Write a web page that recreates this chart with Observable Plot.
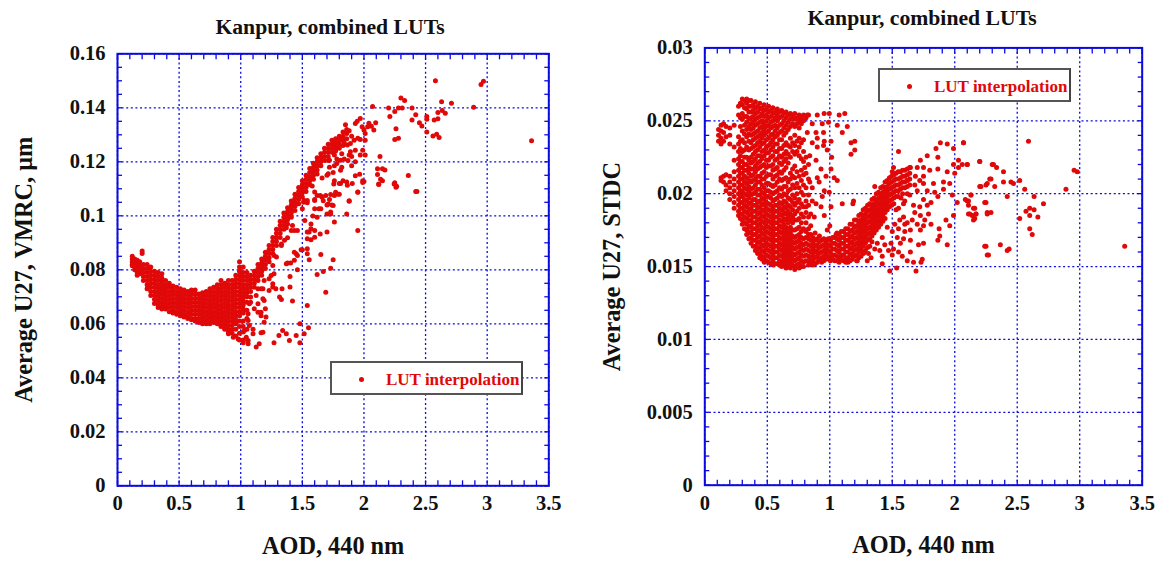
<!DOCTYPE html>
<html><head><meta charset="utf-8">
<script src="https://cdn.jsdelivr.net/npm/d3@7"></script>
<script src="https://cdn.jsdelivr.net/npm/@observablehq/plot@0.6"></script>
<style>
html,body{margin:0;background:#fff;}
#page{position:relative;width:1158px;height:563px;overflow:hidden;font-family:"Liberation Serif",serif;font-weight:bold;}
#page svg{position:absolute;top:0;background:transparent;}
.title{position:absolute;font-size:21.7px;color:#111;transform:translateX(-50%);white-space:nowrap;}
.legend{position:absolute;box-sizing:border-box;width:193px;height:34px;background:#fff;border:2px solid #555;border-right-color:#444;color:#e00808;font-size:17px;white-space:nowrap;}
.legend i{position:absolute;width:5px;height:5px;border-radius:50%;background:#e00808;top:13.5px;left:27px;}
.legend span{position:absolute;left:54px;top:7px;}
</style></head><body><div id="page"></div>
<script>
const chartTitle = "Kanpur, combined LUTs";
const legendLabel = "LUT interpolation";
const xLabel = "AOD, 440 nm";
const leftYLabel = "Average U27, VMRC, μm";
const rightYLabel = "Average U27, STDC";
const xTicks = [0,0.5,1,1.5,2,2.5,3,3.5];
const xMinor = [0.1,0.2,0.3,0.4,0.6,0.7,0.8,0.9,1.1,1.2,1.3,1.4,1.6,1.7,1.8,1.9,2.1,2.2,2.3,2.4,2.6,2.7,2.8,2.9,3.1,3.2,3.3,3.4];
const leftYTicks = [0,0.02,0.04,0.06,0.08,0.1,0.12,0.14,0.16];
const leftYMinor = [0.005,0.01,0.015,0.025,0.03,0.035,0.045,0.05,0.055,0.065,0.07,0.075,0.085,0.09,0.095,0.105,0.11,0.115,0.125,0.13,0.135,0.145,0.15,0.155];
const rightYTicks = [0,0.005,0.01,0.015,0.02,0.025,0.03];
const rightYMinor = [0.001,0.002,0.003,0.004,0.006,0.007,0.008,0.009,0.011,0.012,0.013,0.014,0.016,0.017,0.018,0.019,0.021,0.022,0.023,0.024,0.026,0.027,0.028,0.029];

// VMRC panel: [AOD, [VMRC x 1000, ...]] columns
const leftBand = [
[.12,[85,84,83,82,81.5]],[.14,[84,82.5,81,80]],[.16,[83.5,82,80.5,79,78]],[.18,[83,81.5,80,78.5]],[.2,[87,86]],
[.21,[82,80.5,79,77.5,76]],[.24,[82,80.5,79,77.5,76,74.5,73]],[.27,[81,79.5,78,76.5,75,73.5,72,70.5]],
[.3,[79.5,78,76.5,75,73.5,72,70.5,69,67.5]],[.33,[79,77.5,76,74.5,73,71.5,70,68.5,67,66]],
[.36,[78.5,77,75.5,74,72.5,71,69.5,68,66.5,65.5]],[.39,[76,74.5,73,71.5,70,68.5,67,65.5]],
[.42,[75,73.5,72,70.5,69,67.5,66,64.5]],[.45,[74,72.5,71,69.5,68,66.5,65,64]],
[.48,[73.5,72,70.5,69,67.5,66,64.5,63.5]],[.51,[73,71.5,70,68.5,67,65.5,64,63]],
[.54,[72.5,71,69.5,68,66.5,65,63.5,62.5]],[.57,[72,70.5,69,67.5,66,64.5,63,62]],
[.6,[72.5,71,69.5,68,66.5,65,63.5,62,61.5]],[.63,[72.5,71,69.5,68,66.5,65,63.5,62,61]],
[.66,[71,69.5,68,66.5,65,63.5,62,60.5]],[.69,[71.5,70,68.5,67,65.5,64,62.5,61,60]],
[.72,[72,70.5,69,67.5,66,64.5,63,61.5,60]],[.75,[73,71.5,70,68.5,67,65.5,64,62.5,61,60]],
[.78,[73.5,72,70.5,69,67.5,66,64.5,63,61.5,60.5]],[.81,[74.5,73,71.5,70,68.5,67,65.5,64,62.5,61,60]],
[.84,[76,74.5,73,71.5,70,68.5,67,65.5,64,62.5,61,59.5,59]],[.87,[75,73.5,72,70.5,69,67.5,66,64.5,63,61.5,60,58.5,58]],
[.9,[76,74.5,73,71.5,70,68.5,67,65.5,64,62.5,61,59.5,58,57]],[.93,[76,74.5,73,71.5,70,68.5,67,65.5,64,62.5,61,59.5,58,56.5]],
[.96,[78,76.5,75,73.5,72,70.5,69,67.5,66,64.5,63,61.5,60,58,55.5]],[.99,[83,81,79.5,78,76.5,75,73.5,72,70.5,69,67.5,66,64.5,63,61,59,56.5,54]],
[1.02,[81,79,77.5,76,74.5,73,71.5,70,68.5,67,65.5,64,61,59,57,54,53]],[1.05,[79,77.5,76,74.5,73,71.5,70,68,65,62,58]],
[1.08,[78,76.5,75,73.5,72,68]],[1.11,[79.5,78,76.5,75,73.5]],[1.14,[82,80.5,79,77.5,76]],[1.17,[84,82.5,81,79.5,78]],
[1.2,[86.5,85,83.5,82,80.5]],[1.23,[89,87.5,86,84.5,83]],[1.26,[92,90.5,89,87.5,86]],[1.29,[95,93.5,92,90.5,89]],
[1.32,[98,96.5,95,93.5,92]],[1.35,[101,99.5,98,96.5,95]],[1.38,[103,101.5,100,98.5,97]],[1.41,[105.5,104,102.5,101,99.5]],
[1.44,[108,106.5,105,103.5,102]],[1.47,[110.5,109,107.5,106,104.5]],[1.5,[113,111.5,110,108.5,107]],[1.53,[115,113.5,112,110.5,109]],
[1.56,[117.5,116,114.5,113,111.5]],[1.59,[119.5,118,116.5,115,113.5]],[1.62,[121.5,120,118.5,117,115.5]],[1.65,[123,121.5,120,118.5]],
[1.68,[125,123.5,122,120.5]],[1.71,[126.5,125,123.5,122,120.5]],[1.74,[128,126.5,125,123.5]],[1.77,[128.5,127,125.5,124]],
[1.8,[129.5,128,126.5,125]],[1.83,[131,129.5,128,126]],[1.86,[132,130.5,128.5]]
];
const leftScatter = [
[1.18,69.3],[1.14,73],[1.19,76],[1.247,77.9],[1.26,81.6],[1.38,82.5],[1.46,80],[1.45,85.9],[1.49,87.4],[1.54,85.9],[1.556,83.7],[1.65,85.7],[1.75,83.7],[1.73,80.6],[1.67,79.4],[1.62,78.3],[1.69,71.7],[1.54,66.8],[1.42,68.4],[1.4,73.6],[1.4,77.5],[1.335,73],[1.33,69],[1.26,74.8],[1.165,73],[1.165,64.3],[1.2,65.6],[1.14,67.4],[1.19,60.6],[1.18,56.9],[1.34,57.5],[1.37,56.3],[1.31,55.7],[1.27,53],[1.395,53.8],[1.45,55.7],[1.48,60],[1.515,56.3],[1.55,58.5],[1.48,53],[1.15,52.6],[1.06,52.6],[1.125,51.4],
[1.29,84.7],[1.33,89],[1.29,92],[1.37,95.6],[1.42,96.4],[1.46,94.6],[1.38,91.9],[1.5,102.6],[1.51,105],[1.6,105.7],[1.6,102.6],[1.585,99.9],[1.62,99.5],[1.73,101.4],[1.76,97.7],[1.7,94],[1.645,93.3],[1.57,97],[1.555,94],[1.57,91.1],[1.52,98.3],[1.95,94.6],[1.86,100.7],[1.88,105.4],[1.95,108.8],[1.79,108],[1.66,107],[1.73,107.9],[1.635,102.6],[1.71,104.4],[1.75,103.8],[1.755,111.8],[1.81,112],[1.86,112.5],[2,112.7],[2.12,111.6],[2.245,111.8],[2.26,110.6],[1.54,87.8],[1.6,108.8],[1.435,86.5],
[2.58,150],[2.97,149.8],[2.95,148.6],[2.3,143.6],[2.33,142.7],[2.07,140.5],[2.2,139.9],[2.28,139.9],[2.31,139.9],[2.39,139.9],[2.25,138.6],[2.21,136.8],[2.39,135.5],[2.42,137.4],[2.45,134.5],[2.47,133.3],[2.51,136.8],[2.51,135.8],[2.57,135.5],[2.6,135.9],[2.6,138.3],[2.635,139],[2.66,138],[2.63,142.2],[2.71,141.7],[2.89,140.2],[2.26,132.2],[2.25,128.3],[2.28,128.7],[2.51,131],[2.56,129.6],[2.59,130.2],[2.61,129],[3.36,127.8],[2.13,122],[2.11,117.4],[2.15,117.4],[2.17,117],[2.11,115.3],[2.135,113.5],[2.15,113],[2.12,111.8],[2.36,114.9],[2.25,112.2],[2.265,110.9],[2.42,109],[2.43,109],[1.95,108.7],[1.99,113],[1.99,112.3],[1.965,115.4],[1.93,114.8],[1.88,105.6],[2.01,122.5],[1.99,124.3],[2.01,128],[1.97,128.3],[2.095,134.5],[1.97,136],[1.93,134.2],[1.945,135],[1.85,133.7],[1.88,131.5],[2.08,131.8],[2.04,134.3],[2.03,133],[2.06,133.2],[2,131.8],[1.985,133],[2.01,130.5],
[1.81,116.9],[1.88,122.5],[1.93,124.3],[1.89,126.8],[1.95,128.7],[1.76,113],[1.8,112],[1.83,113],[1.865,111.3],[1.905,112],[1.71,115.6],[1.66,114],[1.7,115],[1.58,111],[1.76,107.5],[1.66,107],[1.6,106],[1.8,108],[1.77,108.7],[1.72,106],[1.67,105.6],[1.54,104.8],[1.7,104],[1.74,104],[1.65,102.6],[1.72,120.6],[1.78,119.4],[1.81,120.6],[1.76,122.5],[1.82,123],[1.89,123.7],[1.865,126.2],[1.81,128],
[1.08,69.9],[1.125,70.5],[1.07,67.4],[1.11,65.6],[1.06,63.7],[1.14,64.3],[1.165,63],[1.205,62.5],[1.19,68.6],[1.23,76.7],[1.27,78.5],[1.26,73.6],[1.285,73],[1.23,72.3],[1.18,73],[1.06,61.2],[1.1,58],[1.07,59.4],[1.03,57.5],[1.045,55],[1.02,53.8],[1.06,53.8],[1.1,56.3],[.9,56.3],[.94,55],[.98,54.4],[1.315,69.9],[1.165,56.7],[1.37,82.2],[1.405,82.5],[1.435,83.5],[1.46,85.3],[1.5,87.4],[1.27,85.3],[1.33,89.6],[1.355,90.9],[1.41,94.6],[1.435,94.6],[1.515,105.7],[1.54,105.7],[1.62,107.5],[1.645,107.5],[1.69,107.5],[1.7,100.7],[1.73,100.7],[1.54,94],[1.6,94.6],[1.57,95.2],[1.54,91.5],[1.6,92.1],
[1.84,127],[1.9,129.5],[1.92,128],[1.78,121],[1.84,121],[1.87,120.5],[1.9,122],[1.93,120],[1.76,118.5],[1.72,118],[1.75,116],[1.82,118],[1.9,118.5],[1.97,122.5]
];

// STDC panel: [AOD, [STDC x 1000, ...]] columns
const rightBlob = [
[.11,[23.6,24,24.4]],[.13,[23.4,23.8,24.3,24.7,21.1,20.9]],[.15,[24.8,24.2,23.6,21.2,20.8]],[.17,[24.6,23.9,21.3,20.6,20.2]],
[.2,[24.5,24,23.4,21.2,20.8,20.4,20,19.6]],[.235,[24.7,23.2,22.3,21.5,21,20.6,20.2,19.8,19.4,19]],
[.27,[26,25.4,23.9,23.4,22.9,22.4,22,21.6,21.2,20.8,20.4,20,19.6,19.2,18.8,18.5]],
[.3,[26.5,26.1,25.5,25.1,24.3,23.7,22.9,22.2,21.8,21.4,21,20.6,20.2,19.8,19.4,19,18.6,18.2,17.9]],
[.335,[26.5,26.2,25.8,25.3,24.9,24.4,23.9,23.2,22.5,22,21.6,21.1,20.7,20.3,19.9,19.5,19.1,18.7,18.3,17.9,17.5,17.2]],
[.37,[26.4,26,25.6,25.2,24.8,24.4,24,23.5,23.1,22.5,22.1,21.7,21.2,20.8,20.3,19.9,19.4,19,18.6,18.2,17.8,17.4,17,16.6]],
[.405,[26.3,25.9,25.5,25.1,24.7,24.2,23.8,23.3,22.9,22.4,21.9,21.5,21,20.6,20.1,19.6,19.2,18.8,18.4,18,17.6,17.2,16.8,16.4,16.1]],
[.44,[26.2,25.8,25.3,24.9,24.5,24,23.6,23.2,22.6,22.2,21.8,21.2,20.8,20.3,19.9,19.5,19.1,18.7,18.3,17.9,17.5,17.1,16.7,16.3,15.9,15.6]],
[.475,[26.1,25.7,25.3,24.8,24.4,24,23.5,23,22.6,22,21.5,21,20.4,20,19.6,19.2,18.8,18.4,18,17.6,17.2,16.8,16.4,16,15.6,15.3]],
[.51,[26,25.6,25.2,24.7,24.3,23.8,23.3,22.8,22.3,21.9,21.3,20.7,20.2,19.8,19.3,18.9,18.5,18.1,17.7,17.3,16.9,16.5,16.1,15.7,15.3]],
[.545,[25.9,25.5,25,24.6,24.1,23.7,23.2,22.6,22,21.6,21,20.5,20,19.5,19,18.6,18.2,17.8,17.4,17,16.6,16.2,15.8,15.4,15.1]],
[.58,[25.8,25.4,25,24.5,24,23.4,22.9,22.4,21.8,21.3,20.8,20.2,19.7,19.2,18.8,18.4,18,17.6,17.2,16.8,16.4,16,15.6,15.2]],
[.615,[25.7,25.3,24.8,24.3,23.7,23.1,22.5,22,21.4,20.9,20.3,19.8,19.3,18.9,18.5,18.1,17.7,17.3,16.9,16.5,16.1,15.7,15.3,15]],
[.65,[25.6,25.2,24.7,24.2,23.5,22.9,22.4,21.8,21.1,20.5,19.9,19.4,19,18.6,18.2,17.7,17.3,16.9,16.5,16.1,15.7,15.3,14.9]],
[.685,[25.5,25.1,24.6,23.8,23.2,22.5,21.4,21,20.3,19.6,19.1,18.6,18.2,17.7,17.3,16.9,16.5,16.1,15.7,15.3,14.9]],
[.72,[25.5,25.1,24.6,24,23.3,22.7,21.9,21.1,20.4,19.7,19.2,18.6,18.2,17.5,17,16.6,16.2,15.8,15.4,15,14.8]],
[.755,[25.4,25,24.5,23.8,23.2,22.6,21.2,20.4,19.6,19,18.3,17.7,17.2,16.8,16.4,16,15.6,15.2,14.9]],
[.79,[25.4,25,23.7,22.9,22.2,21.3,20.6,19.9,19.1,18.4,17.6,16.9,16.5,16.1,15.7,15.3,15]],
[.83,[25.4,22,21,19.9,19.2,18.4,17.6,17.2,16.9,16.5,16.1,15.7,15.4,15.1]],
[.865,[17,16.6,16.2,15.8,15.4,15.1]],[.9,[16.9,16.5,16.1,15.7,15.3]],[.935,[16.8,16.4,16,15.6,15.3]],[.97,[16.7,16.3,15.9,15.5]],
[1.005,[16.8,16.4,16,15.6,15.4]],[1.04,[17,16.6,16.2,15.8,15.4]],[1.075,[17.2,16.8,16.4,16,15.6,15.3]],[1.11,[17.4,17,16.6,16.2,15.8,15.4]],
[1.145,[17.6,17.2,16.8,16.4,16,15.6,15.3]],[1.18,[17.9,17.5,17.1,16.7,16.3,15.9,15.5]],[1.215,[18.2,17.8,17.4,17,16.6,16.2,15.8,15.4]],
[1.25,[18.6,18.2,17.8,17.4,17,16.6,16.2,15.7]],[1.285,[19,18.6,18.2,17.8,17.4,17,16.6,16.1]],[1.32,[19.3,18.9,18.5,18.1,17.7,17.3,16.9,16.4]],
[1.355,[19.7,19.3,18.9,18.5,18.1,17.7,17.3]],[1.39,[20.1,19.7,19.3,18.9,18.5,18.1,17.7]],[1.425,[20.5,20.1,19.7,19.3,18.9,18.5,18.1]],
[1.46,[20.9,20.5,20.1,19.7,19.3,18.9]],[1.495,[21.2,20.8,20.4,20,19.6,19.2]],[1.53,[21.4,21,20.6,20.2,19.8]],[1.565,[21.5,21.1,20.7,20.3]],
[1.6,[21.6,21.2,20.8,20.4]],[1.64,[21.8,21.4,21,20.6]]
];
const rightBlobInfill = [
[.285,[26.2,25.2,24.6,23.6,23.1,22.6,22.2,21.8,21.4,21,20.6,20.2,19.8,19.4,19,18.6,18.3]],
[.3175,[26.4,25.9,25.3,24.7,24.1,23.5,23,22.5,22,21.6,21.2,20.8,20.4,20,19.6,19.2,18.8,18.4,18,17.6]],
[.3525,[26.4,26,25.6,25.1,24.6,24.1,23.6,23,22.3,21.8,21.4,20.9,20.5,20.1,19.7,19.3,18.9,18.5,18.1,17.7,17.3,16.9]],
[.3875,[26.1,25.7,25.3,24.9,24.5,24.1,23.7,23.2,22.7,22.2,21.7,21.3,20.9,20.4,20,19.6,19.2,18.8,18.4,18,17.6,17.2,16.8,16.4]],
[.4225,[26,25.6,25.2,24.8,24.3,23.9,23.5,23,22.6,22.1,21.7,21.2,20.8,20.3,19.9,19.4,19,18.6,18.2,17.8,17.4,17,16.6,16.2,15.9]],
[.4575,[25.9,25.5,25,24.6,24.2,23.8,23.4,22.9,22.4,21.9,21.4,21,20.6,20.1,19.7,19.3,18.9,18.5,18.1,17.7,17.3,16.9,16.5,16.1,15.7,15.5]],
[.4925,[25.8,25.4,25,24.6,24.2,23.7,23.2,22.8,22.3,21.8,21.2,20.7,20.2,19.8,19.4,19,18.6,18.2,17.8,17.4,17,16.6,16.2,15.8,15.4]],
[.5275,[25.7,25.3,24.9,24.5,24,23.5,23,22.5,21.9,21.3,20.6,20.1,19.7,19.2,18.8,18.4,18,17.6,17.2,16.8,16.4,16,15.6,15.2]],
[.5625,[25.6,25.2,24.7,24.3,23.9,23.4,22.9,22.3,21.7,21.2,20.6,20.1,19.6,19.2,18.8,18.4,18,17.6,17.2,16.8,16.4,16,15.6,15.2]],
[.5975,[25.6,25.2,24.7,24.2,23.7,23.1,22.6,22.1,21.5,21,20.4,19.9,19.4,19,18.6,18.2,17.8,17.4,17,16.6,16.2,15.8,15.4,15.1]],
[.6325,[25.5,25,24.5,24,23.3,22.7,22.2,21.6,21,20.5,20,19.5,19.1,18.7,18.3,17.9,17.5,17.1,16.7,16.3,15.9,15.5,15.1]],
[.6675,[25.4,24.9,24.4,23.3,22.7,22.1,20.8,20.2,19.7,19.2,18.8,18.4,18,17.5,17.1,16.7,16.3,15.9,15.5,15.1]],
[.7025,[25.3,24.8,23.5,22.9,21.7,21.2,20.6,19.9,19.4,18.9,18.4,18,17.5,17.1,16.7,16.3,15.9,15.5,15.1]],
[.7375,[25.2,24.8,23.6,22.9,21.5,20.7,20,19.4,18.8,18.2,17.6,17.1,16.7,16.3,15.9,15.5,15.1]],
[.7725,[25.2,24.8,23.5,22.4,21.6,20.9,20.1,19.3,18.6,18,17.4,17,16.6,16.2,15.8,15.4,15]],
[.81,[25.2,22.5,21.4,20.4,19.5,18.7,18,17.4,17,16.6,16.2,15.8,15.4]],
[.8475,[18.6,17.8,17.2,16.8,16.4,16,15.6,15.2]],[.8825,[17.3,16.8,16.4,16,15.6,15.2]],[.9175,[17.1,16.7,16.3,15.9,15.5]],[.9525,[16.9,16.5,16.1,15.7,15.4]],
[.9875,[16.9,16.5,16.1,15.7]],[1.0225,[17,16.6,16.2,15.8,15.5]],[1.0575,[17.3,16.9,16.5,16.1,15.7,15.4]],[1.0925,[17.4,17,16.6,16.2,15.8,15.5]],
[1.1275,[17.6,17.2,16.8,16.4,16,15.6,15.3]],[1.1625,[17.9,17.4,17,16.6,16.2,15.8,15.4]],[1.1975,[18.2,17.7,17.3,16.9,16.5,16.1,15.7]],
[1.2325,[18.5,18,17.6,17.2,16.8,16.4,16,15.6]],[1.2675,[18.9,18.4,18,17.6,17.2,16.8,16.4,16]],[1.3025,[19.2,18.8,18.4,18,17.6,17.2,16.8,16.3]],
[1.3375,[19.6,19.1,18.7,18.3,17.9,17.5,17.1,16.7]],[1.3725,[20,19.5,19.1,18.7,18.3,17.9,17.5]],[1.4075,[20.4,19.9,19.5,19.1,18.7,18.3,17.9]],
[1.4425,[20.8,20.3,19.9,19.5,19.1,18.7,18.3]],[1.4775,[21.1,20.7,20.3,19.9,19.5,19.1]],[1.5125,[21.3,20.9,20.5,20.1,19.7,19.3]],
[1.5475,[21.5,21,20.6,20.2,19.8]],[1.5825,[21.6,21.2,20.8,20.4,20]],[1.62,[21.7,21.3,20.9,20.5]]
];
const rightScatter = [
[.82,25.4],[.9,25.4],[.955,25.5],[.996,25.5],[1.075,25.4],[1.12,25.5],[.86,24.8],[.89,24.2],[.94,24.8],[.99,24.9],[1.06,24.7],[1.1,24.2],[1.14,24.6],[.956,23.6],[1.01,23.6],[.9,23.8],[.82,24.2],[.9,23.2],[.95,23.3],[.98,23],[1.015,22.5],[.84,22.6],[.89,22.3],[.93,21.7],[1.01,21.7],[.8,21.8],[.9,21.1],[.97,21.2],[1.035,21.1],[1.06,20.9],[.915,20.8],[.956,20.2],[.94,19.8],[.996,20.1],[1.01,19.1],[.89,19.3],[1.1,19.3],[1.19,19.5],[1.185,19.3],[.81,19.1],[.876,18.4],[.956,18.5],[1,17.8],[1.17,23.5],[1.2,23.6],[1.2,23],[1.17,22.7],[.98,17.5],[1.05,17.2],[1.36,20.5],[1.55,22.9],
[1.51,21.8],[1.5,21.5],[1.645,21.8],[1.725,22.3],[1.78,22.6],[1.85,23.1],[1.885,23.5],[1.94,23.4],[1.99,23.1],[2.07,23.5],[1.865,22.5],[1.75,21.8],[1.8,21.6],[1.7,21.8],[1.75,21.2],[1.685,21.2],[1.62,20.9],[1.865,21.7],[1.94,21.5],[1.99,22],[2.03,22.3],[2.03,21.8],[2.1,22],[2.2,22.2],[2,21.4],[1.96,20.7],[1.91,20.8],[1.83,20.7],[1.75,20.7],[1.7,20.2],[1.62,20],[1.865,19.8],[1.91,20.3],[1.98,19.9],[2.02,19.4],[1.81,19.4],[1.75,19.6],[1.67,19.2],[1.59,19.3],[1.55,19],[1.59,18.4],[1.66,18.2],[1.725,18.5],[1.79,18.6],[1.7,17.9],[1.75,17.8],[1.81,17.9],[1.875,17.6],[1.93,18.2],[1.99,18.5],[1.96,17.8],[1.55,17.6],[1.6,17.4],[1.645,17.5],[1.725,17.5],[1.865,16.8],[1.94,16.5],[1.88,17.1],[1.645,16.8],[1.71,16.5],[1.59,16.9],[1.54,17],[1.565,16.6],[1.55,16],[1.645,16],[1.49,16.6],[1.42,17],[1.38,16.6],[1.47,16.1],[1.42,15.7],[1.33,15.6],[1.27,15.9],[1.22,15.4],[1.42,15.2],[1.62,15.4],[1.67,15.3],[1.74,15.5],[1.73,15.3],[1.48,14.7],[1.535,14.9],[1.69,14.7],[1.3,15.4],[1.51,16.2],[1.75,16.6],
[2.13,19.9],[2.1,19.5],[2.16,19],[2.11,18.6],[2.17,18.6],[2.16,18.3],[2.2,20.5],[2.25,20.6],[2.28,21],[2.24,19.4],[2.26,18.7],[2.24,16.4],[2.26,15.8],
[2.07,23.5],[2.59,23.6],[2.2,22.2],[2.1,22],[2.06,22],[2.3,22],[2.31,22],[2.335,21.8],[2.39,21.5],[2.29,21],[2.26,20.7],[2.39,20.8],[2.45,20.8],[2.47,20.7],[2.21,20.5],[2.32,20.5],[2.52,20.9],[2.56,20.3],[2.89,20.3],[2.955,21.6],[2.98,21.5],[2.13,19.9],[2.085,19.6],[2.11,19.5],[2.11,19.2],[2.25,19.4],[2.42,19.8],[2.635,19.8],[2.71,19.3],[2.15,19],[2.12,18.6],[2.14,18.5],[2.17,18.6],[2.15,18.2],[2.26,18.6],[2.29,18.7],[2.57,18.8],[2.6,19],[2.635,18.9],[2.6,18.5],[2.665,18.4],[2.52,18.3],[2.6,17.6],[2.62,17.2],[2.25,16.4],[2.365,16.5],[2.435,16.2],[2.42,16.1],[2.27,15.8],[3.36,16.4],
[1.53,18.9],[1.57,19.7],[1.6,19.5],[1.64,19.9],[1.68,20.6],[1.72,20.9],[1.78,20.2],[1.84,20.1],[1.72,19.1],[1.78,19.2],[1.68,18.7],[1.62,18],[1.56,18.2],[1.52,17.9],[1.6,17.9],[1.76,18.2],[1.5,17.4],[1.46,17.7],[1.44,16.5],[1.4,16.1],[1.36,16.2],[1.31,15.9],[1.5,15.8],[1.58,15.7],[.86,20.4],[.86,19.5],[.93,19.1],[.84,20.8],[.86,23.5],[.95,24.2]
];

const BLUE = "#0a0ae0", RED = "#e00808", INK = "#111";
const rows = (cols, pts) => [
  ...cols.flatMap(([x, ys]) => ys.map(y => ({x, y: y / 1000}))),
  ...pts.map(([x, y]) => ({x, y: y / 1000}))
];
const font = {fontFamily: "Liberation Serif", fontWeight: "bold"};

function panel({left, width, marginLeft, marginRight, marginTop, marginBottom, yMax, yTicks, yMinor, data, yLabel, yLabelOffset}) {
  const tickMarks = (axis, anchor, ticks, size) => axis({anchor, ticks, tickSize: size, tickFormat: () => "", stroke: BLUE, strokeWidth: 1.3, label: null});
  const svg = Plot.plot({
    width, height: 563, marginLeft, marginRight, marginTop, marginBottom,
    style: {background: "transparent", overflow: "visible"},
    x: {domain: [0, 3.5]},
    y: {domain: [0, yMax]},
    marks: [
      Plot.gridX(xTicks, {stroke: BLUE, strokeOpacity: 1, strokeWidth: 1.3, strokeDasharray: "2,2.6"}),
      Plot.gridY(yTicks, {stroke: BLUE, strokeOpacity: 1, strokeWidth: 1.3, strokeDasharray: "2,2.6"}),
      Plot.dot(data, {x: "x", y: "y", r: 2.5, fill: RED, stroke: "none"}),
      Plot.frame({stroke: BLUE, strokeWidth: 2}),
      tickMarks(Plot.axisX, "bottom", [...xTicks, ...xMinor], -5),
      tickMarks(Plot.axisX, "top", [...xTicks, ...xMinor], -5),
      tickMarks(Plot.axisY, "left", [...yTicks, ...yMinor], -5),
      tickMarks(Plot.axisY, "right", [...yTicks, ...yMinor], -5),
      Plot.axisX({ticks: xTicks, tickSize: 0, tickPadding: 10, tickFormat: d => String(d), fontSize: 20.5, ...font, fill: INK, label: null}),
      Plot.axisY({ticks: yTicks, tickSize: 0, tickPadding: 12, tickFormat: d => String(d), fontSize: 20.5, ...font, fill: INK, label: null}),
      Plot.axisX({ticks: xTicks, tickSize: 0, tickFormat: () => "", fontSize: 24.3, ...font, fill: INK, label: xLabel, labelAnchor: "center", labelArrow: "none", labelOffset: 68}),
      Plot.axisY({ticks: yTicks, tickSize: 0, tickFormat: () => "", fontSize: 24.3, ...font, fill: INK, label: yLabel, labelAnchor: "center", labelArrow: "none", labelOffset: yLabelOffset})
    ]
  });
  svg.style.left = left + "px";
  return svg;
}

const page = document.getElementById("page");
page.append(panel({left: 0, width: 580, marginLeft: 117, marginRight: 31.7, marginTop: 53.3, marginBottom: 77.7, yMax: 0.16, yTicks: leftYTicks, yMinor: leftYMinor, data: rows(leftBand, leftScatter), yLabel: leftYLabel, yLabelOffset: 103}));
page.append(panel({left: 580, width: 578, marginLeft: 124.3, marginRight: 16.3, marginTop: 47.4, marginBottom: 78.3, yMax: 0.03, yTicks: rightYTicks, yMinor: rightYMinor, data: rows([...rightBlob, ...rightBlobInfill], rightScatter), yLabel: rightYLabel, yLabelOffset: 102}));

const addTitle = (cx, top) => { const d = document.createElement("div"); d.className = "title"; d.textContent = chartTitle; d.style.left = cx + "px"; d.style.top = top + "px"; page.append(d); };
addTitle(330, 15); addTitle(922, 6);
const addLegend = (left, top) => { const d = document.createElement("div"); d.className = "legend"; d.style.left = left + "px"; d.style.top = top + "px"; d.innerHTML = "<i></i><span></span>"; d.querySelector("span").textContent = legendLabel; page.append(d); };
addLegend(330, 361); addLegend(878, 68);
</script></body></html>
